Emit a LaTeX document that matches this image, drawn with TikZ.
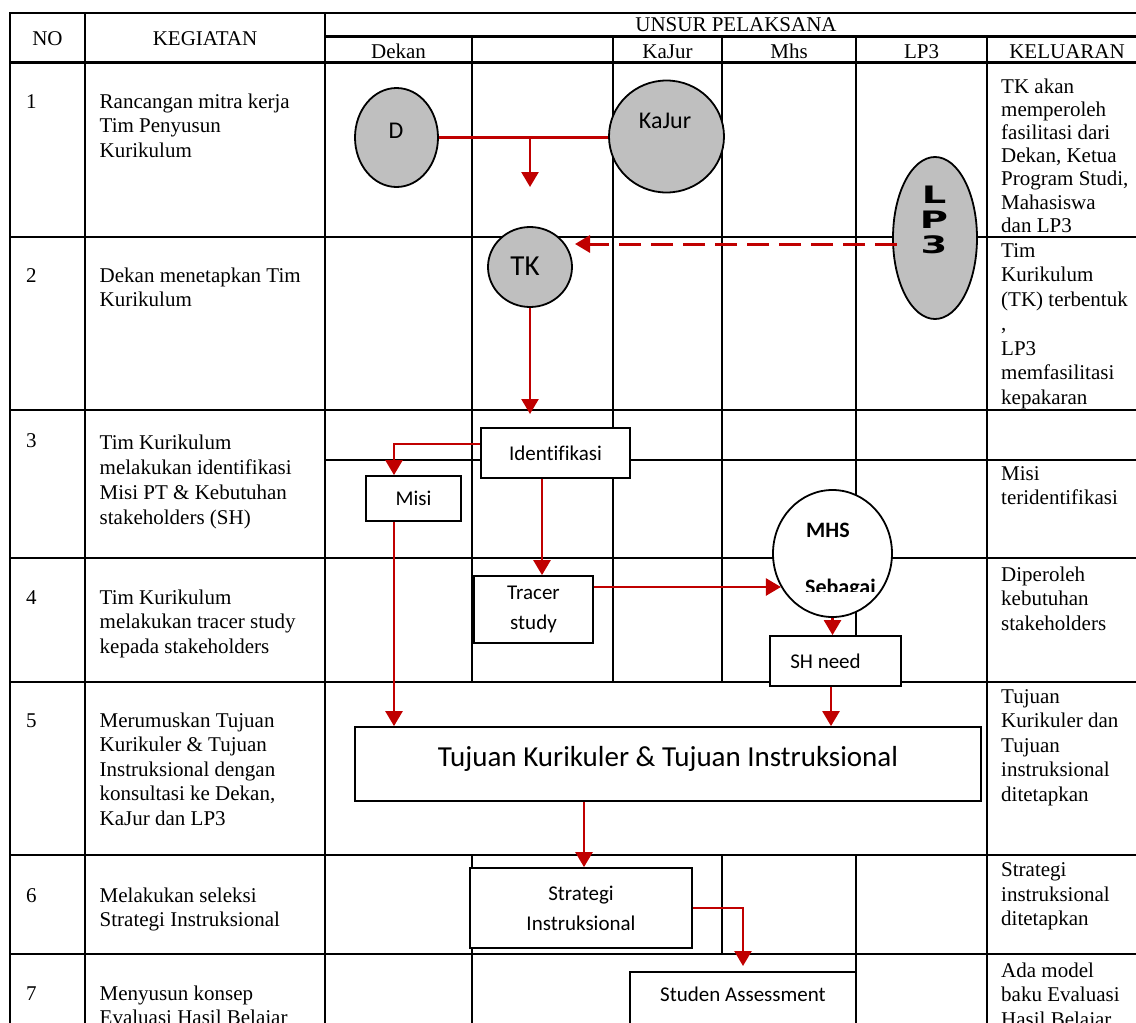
\documentclass[tikz,border=0pt]{standalone}
\usepackage{fontspec}
\setmainfont{Liberation Serif}
\newfontfamily\calib{Carlito}[Ligatures=CommonOff]
\newfontfamily\heavyf{DejaVu Sans}
\usetikzlibrary{arrows.meta,shapes.geometric,calc}
\definecolor{myred}{HTML}{C00000}
\definecolor{cgray}{HTML}{BFBFBF}
\newcommand\mycell[2][24.5]{\parbox[t]{235pt}{\raggedright\fontsize{21}{#1}\selectfont #2}}
\begin{document}
\begin{tikzpicture}[x=1pt,y=-1pt,
 tline/.style={line width=2.2pt,line cap=rect},
 rline/.style={draw=myred,line width=2.5pt},
 arr/.style={rline,-{Triangle[length=15pt,width=17pt]}},
 dasharr/.style={arr,line width=3pt,dash pattern=on 22pt off 10pt},
 circ/.style={ellipse,draw,line width=1.8pt,fill=cgray,inner sep=0pt},
 wcirc/.style={circ,fill=white},
 boxst/.style={rectangle,draw,line width=1.8pt,fill=white,inner sep=0pt,align=center,font=\calib\fontsize{21}{30}\selectfont},
 hdr/.style={anchor=base,inner sep=0pt,font=\fontsize{21}{24}\selectfont},
 cell/.style={anchor=base west,inner sep=0pt},
 lab/.style={inner sep=0pt,font=\calib\fontsize{24}{28}\selectfont}]
\fill[white] (0,0) rectangle (1136,1023);
\useasboundingbox (0,0) rectangle (1136,1023);
% ---------- grid ----------
\draw[tline] (10,13) -- (1136,13);
\draw[tline] (325,36.5) -- (1136,36.5);
\draw[tline] (10,62.5) -- (1136,62.5);
\foreach \yy in {237,410,558,682,855,954} \draw[tline] (10,\yy) -- (1136,\yy);
\draw[tline] (325,460) -- (1136,460);
\foreach \xx in {10,85,325} \draw[tline] (\xx,13) -- (\xx,1030);
\draw[tline] (987,36.5) -- (987,1030);
\draw[tline] (472,36.5) -- (472,682);
\draw[tline] (472,855) -- (472,1030);
\draw[tline] (613,36.5) -- (613,682);
\draw[tline] (722,36.5) -- (722,682);
\draw[tline] (722,855) -- (722,954);
\draw[tline] (856,36.5) -- (856,682);
\draw[tline] (856,855) -- (856,1030);
% ---------- header ----------
\node[hdr] (hno) at (47.5,45) {NO};
\node[hdr] (hkeg) at (205,45) {KEGIATAN};
\node[hdr] (hunsur) at (736,31.7) {UNSUR PELAKSANA};
\node[hdr] (hdekan) at (398.5,58) {Dekan};
\node[hdr] (hkajur) at (667.5,58) {KaJur};
\node[hdr] (hmhs) at (789,58) {Mhs};
\node[hdr] (hlp3) at (921.5,58) {LP3};
\node[hdr] (hkel) at (1067,58) {KELUARAN};
% ---------- numbers ----------
\node[cell] (n1) at (26,108) {\fontsize{21}{24}\selectfont 1};
\node[cell] (n2) at (26,282) {\fontsize{21}{24}\selectfont 2};
\node[cell] (n3) at (26,447) {\fontsize{21}{24}\selectfont 3};
\node[cell] (n4) at (26,604) {\fontsize{21}{24}\selectfont 4};
\node[cell] (n5) at (26,727) {\fontsize{21}{24}\selectfont 5};
\node[cell] (n6) at (26,902) {\fontsize{21}{24}\selectfont 6};
\node[cell] (n7) at (26,1000) {\fontsize{21}{24}\selectfont 7};
% ---------- kegiatan ----------
\node[cell] (k1) at (99.5,108) {\mycell{Rancangan mitra kerja\\Tim Penyusun\\Kurikulum}};
\node[cell] (k2) at (99.5,282) {\mycell{Dekan menetapkan Tim\\Kurikulum}};
\node[cell] (k3) at (99.5,449) {\mycell[25]{Tim Kurikulum\\melakukan identifikasi\\Misi PT \& Kebutuhan\\stakeholders (SH)}};
\node[cell] (k4) at (99.5,604) {\mycell{Tim Kurikulum\\melakukan tracer study\\kepada stakeholders}};
\node[cell] (k5) at (99.5,727) {\mycell{Merumuskan Tujuan\\Kurikuler \& Tujuan\\Instruksional dengan\\konsultasi ke Dekan,\\KaJur dan LP3}};
\node[cell] (k6) at (99.5,902) {\mycell{Melakukan seleksi\\Strategi Instruksional}};
\node[cell] (k7) at (99.5,1000) {\mycell{Menyusun konsep\\Evaluasi Hasil Belajar}};
% ---------- keluaran ----------
\node[cell] (o1) at (1001,93) {\mycell[23.2]{TK akan\\memperoleh\\fasilitasi dari\\Dekan, Ketua\\Program Studi,\\Mahasiswa\\dan LP3}};
\node[cell] (o2) at (1001,257) {\mycell{Tim\\Kurikulum\\(TK) terbentuk\\,\\LP3\\memfasilitasi\\kepakaran}};
\node[cell] (o3) at (1001,480) {\mycell{Misi\\teridentifikasi}};
\node[cell] (o4) at (1001,581) {\mycell{Diperoleh\\kebutuhan\\stakeholders}};
\node[cell] (o5) at (1001,703) {\mycell{Tujuan\\Kurikuler dan\\Tujuan\\instruksional\\ditetapkan}};
\node[cell] (o6) at (1001,876.5) {\mycell{Strategi\\instruksional\\ditetapkan}};
\node[cell] (o7) at (1001,977) {\mycell{Ada model\\baku Evaluasi\\Hasil Belajar}};
% ---------- shapes ----------
\node[circ, minimum width=83pt, minimum height=99pt] (d) at (396.5,137.5) {};
\node[lab] (dlbl) at (396,131) {D};
\node[circ, minimum width=115pt, minimum height=112pt] (kajur) at (666.5,136.5) {};
\node[lab] (kajurlbl) at (665,121) {KaJur};
\node[circ, minimum width=84pt, minimum height=80pt] (tk) at (530,267) {};
\node[lab, font=\calib\fontsize{29}{32}\selectfont] (tklbl) at (525,266) {TK};
\node[circ, minimum width=84pt, minimum height=162pt] (lp3) at (935,238) {};
\node[inner sep=0pt, anchor=north, align=center, font=\heavyf\bfseries\fontsize{24}{25}\selectfont] (lp3lbl) at (934,185.5) {\scalebox{1.6}[1]{L}\\\scalebox{1.6}[1]{P}\\\scalebox{1.6}[1]{3}};
\node[boxst, minimum width=149pt, minimum height=50pt] (ident) at (555.5,453) {Identifikasi};
\node[boxst, minimum width=95pt, minimum height=45pt] (misi) at (413.5,498.5) {Misi};
\node[boxst, minimum width=119pt, minimum height=67pt] (tracer) at (533.5,609.5) {Tracer\\study};
\node[wcirc, minimum width=119pt, minimum height=127pt] (mhs) at (832.5,553.5) {};
\node[inner sep=0pt, anchor=west, font=\calib\bfseries\fontsize{22}{26}\selectfont] (mhslbl) at (806,530) {MHS};
\begin{scope}
\clip (780,570) rectangle (890,591);
\node[inner sep=0pt, anchor=base west, font=\calib\bfseries\fontsize{22}{26}\selectfont] (sebagai) at (805,594) {Sebagai};
\end{scope}
\node[boxst, minimum width=131pt, minimum height=50pt] (sh) at (835.5,661) {\hspace*{-20pt}SH need};
\node[boxst, minimum width=626pt, minimum height=74pt, font=\calib\fontsize{29}{34}\selectfont, text height=22pt, text depth=18pt] (tujuan) at (668,764) {Tujuan Kurikuler \& Tujuan Instruksional};
\node[boxst, minimum width=222pt, minimum height=80pt] (strat) at (581,908) {Strategi\\Instruksional};
\node[boxst, anchor=north, minimum width=226pt, text height=22pt, text depth=70pt, inner ysep=8pt] (studen) at (743,971) {Studen Assessment};
% ---------- connectors ----------
\coordinate (dkend) at (530,187);
\coordinate (tkend) at (530,414);
\coordinate (lpend) at (575,244);
\draw[rline] (d.east) -- (d.east -| kajur.west);
\draw[arr] (d.east -| tk.north) -- (dkend);
\draw[arr] (tk.south) -- (tkend);
\draw[dasharr] ([xshift=5pt,yshift=-6pt]lp3.west) -- (lpend);
\draw[arr] ([yshift=9pt]ident.west) -| ([xshift=-19.5pt]misi.north);
\draw[arr] ([xshift=-13.5pt]ident.south) -- ([xshift=-13.5pt]ident.south |- tracer.north);
\draw[arr] ([xshift=-19.5pt]misi.south) -- ([xshift=-19.5pt]misi.south |- tujuan.north);
\draw[arr] (tracer.east |- mhs.213.6) -- (mhs.213.6);
\draw[arr] (mhs.south) -- (mhs.south |- sh.north);
\draw[arr] ([xshift=-4.5pt]sh.south) -- ([xshift=-4.5pt]sh.south |- tujuan.north);
\draw[arr] ([xshift=-84pt]tujuan.south) -- ([xshift=-84pt]tujuan.south |- strat.north);
\draw[arr] (strat.east) -| ([yshift=5pt]studen.north);
\end{tikzpicture}
\end{document}
